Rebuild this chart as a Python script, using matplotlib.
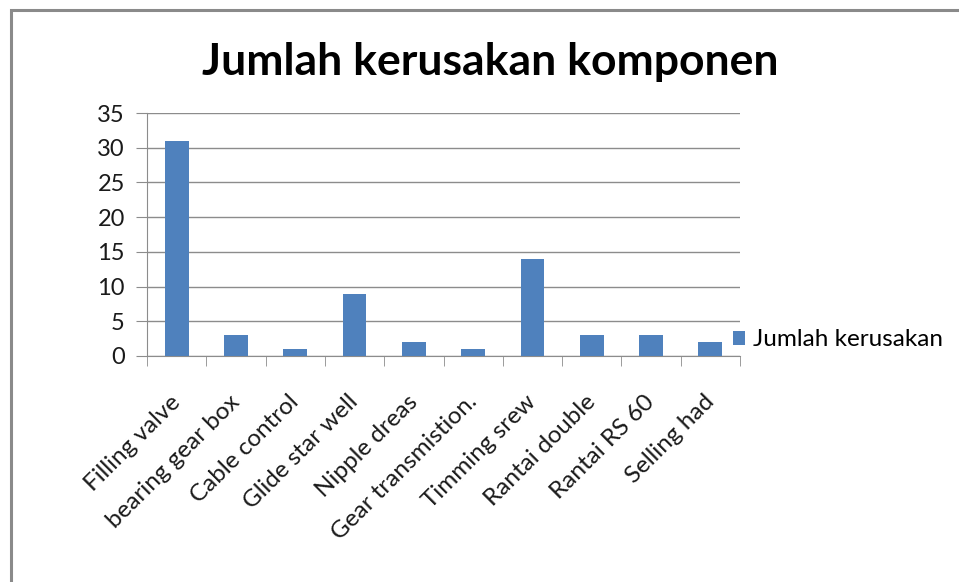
import matplotlib.pyplot as plt
from matplotlib.patches import Rectangle
from matplotlib.transforms import ScaledTranslation

categories = ["Filling valve", "bearing gear box", "Cable control", "Glide star well",
              "Nipple dreas", "Gear transmistion.", "Timming srew", "Rantai double",
              "Rantai RS 60", "Selling had"]
values = [31, 3, 1, 9, 2, 1, 14, 3, 3, 2]
yticks = [0, 5, 10, 15, 20, 25, 30, 35]

plt.rcParams['font.family'] = ['Lato', 'DejaVu Sans']

fig = plt.figure(figsize=(9.59, 5.82), dpi=100)
fig.patches.append(Rectangle((11 / 959, -0.1), 1.2, (1 - 10 / 582) + 0.1,
                             transform=fig.transFigure, fill=False,
                             edgecolor='#8a8a8a', linewidth=2.2))

ax = fig.add_axes([147 / 959, 1 - 356 / 582, 593 / 959, 243 / 582])
x = list(range(len(categories)))
bars = ax.bar(x, values, width=0.4, color='#4F81BD', label='Jumlah kerusakan', zorder=3)

ax.set_xlim(-0.5, len(categories) - 0.5)
ax.set_ylim(0, 35)
ax.set_yticks(yticks)
ax.set_yticklabels([str(v) for v in yticks], fontsize=17, color='#1a1a1a')
ax.yaxis.grid(True, color='#8c8c8c', linewidth=1, zorder=0)

ax.set_xticks(x)
ax.set_xticklabels(categories, rotation=45, ha='right', va='baseline',
                   rotation_mode='anchor', fontsize=17.5, color='#1a1a1a')
ax.tick_params(axis='x', length=0, pad=34)
shift = ScaledTranslation(5 / 100, 0, fig.dpi_scale_trans)
for lbl in ax.get_xticklabels():
    lbl.set_transform(lbl.get_transform() + shift)
ax.set_xticks([i - 0.5 for i in range(len(categories) + 1)], minor=True)
ax.tick_params(axis='x', which='minor', length=7, color='#8c8c8c')
ax.tick_params(axis='y', length=8, color='#8c8c8c', pad=8)

for s in ['top', 'right']:
    ax.spines[s].set_visible(False)
for s in ['left', 'bottom']:
    ax.spines[s].set_color('#8c8c8c')

fig.text(0.511, 1 - 62 / 582, 'Jumlah kerusakan komponen', ha='center', va='center',
         fontsize=32, fontweight='bold', color='black')

fig.legend(handles=[bars], labels=['Jumlah kerusakan'], loc='center left',
           bbox_to_anchor=(721 / 959, 1 - 340 / 582), frameon=False, fontsize=17.5,
           borderpad=0, handlelength=0.5, handleheight=0.5, handletextpad=0.3)

fig.savefig('out.png', dpi=100)
